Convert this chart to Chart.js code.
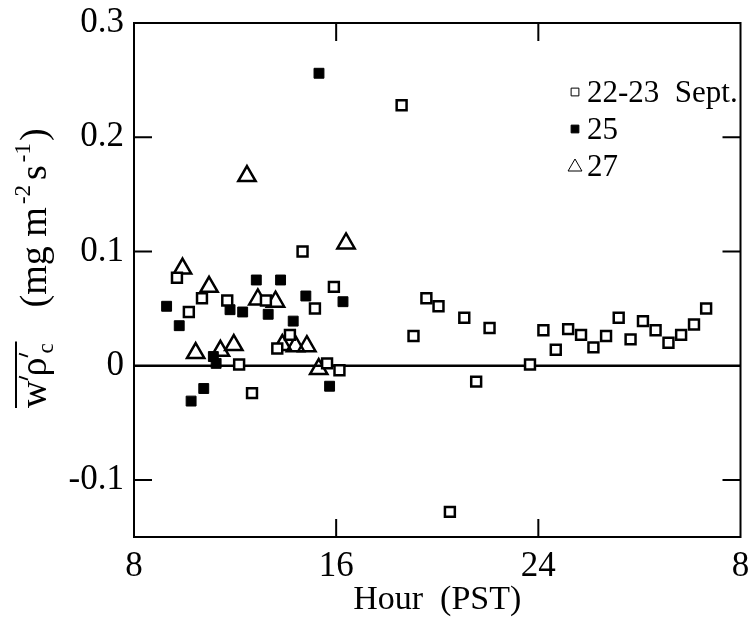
<!DOCTYPE html>
<html>
<head>
<meta charset="utf-8">
<script src="https://cdn.jsdelivr.net/npm/chart.js@4.4.1/dist/chart.umd.min.js"></script>
<style>
  html, body { margin: 0; padding: 0; background: #fff; }
  #wrap { width: 753px; height: 627px; }
</style>
</head>
<body>
<div id="wrap"><canvas id="fluxChart" width="753" height="627"></canvas></div>
<script>
// hours (PST, continuing past 24 for the next morning) and CO2 flux values
var sept2223Hours = [9.70, 10.17, 10.69, 11.69, 12.16, 12.67, 13.22, 13.67, 14.17, 14.67, 15.16, 15.64, 15.91, 16.13,
                     18.59, 19.06, 19.57, 20.05, 20.50, 21.07, 21.54, 22.07, 23.67, 24.20, 24.69, 25.18, 25.69,
                     26.18, 26.68, 27.18, 27.65, 28.14, 28.64, 29.15, 29.65, 30.16, 30.64];
var sept2223Flux  = [0.077, 0.047, 0.059, 0.057, 0.001, -0.024, 0.057, 0.015, 0.027, 0.100, 0.050, 0.002, 0.069, -0.004,
                     0.228, 0.026, 0.059, 0.052, -0.128, 0.042, -0.014, 0.033, 0.001, 0.031, 0.014, 0.032, 0.027,
                     0.016, 0.026, 0.042, 0.023, 0.039, 0.031, 0.020, 0.027, 0.036, 0.050];

var sept25Hours = [9.29, 9.79, 10.26, 10.76, 11.14, 11.25, 11.80, 12.30, 12.84, 13.31, 13.80, 14.30, 14.80, 15.32, 15.74, 16.27];
var sept25Flux  = [0.052, 0.035, -0.031, -0.020, 0.008, 0.002, 0.049, 0.047, 0.075, 0.045, 0.075, 0.039, 0.061, 0.256, -0.018, 0.056];

var sept27Hours = [9.92, 10.44, 10.97, 11.42, 11.95, 12.47, 12.90, 13.60, 13.87, 14.39, 14.84, 15.31, 16.39];
var sept27Flux  = [0.085, 0.011, 0.069, 0.013, 0.018, 0.166, 0.058, 0.056, 0.018, 0.017, 0.017, -0.003, 0.107];

var seriesNames = ['22-23  Sept.', '25', '27'];

var xTickValues = [8, 16, 24, 32];
var xTickLabels = ['8', '16', '24', '8'];
var yTickValues = [-0.1, 0, 0.1, 0.2, 0.3];
var yTickLabels = ['-0.1', '0', '0.1', '0.2', '0.3'];

function pts(xs, ys) {
  return xs.map(function(x, i) { return { x: x, y: ys[i] }; });
}

var serif = '"Liberation Serif", "DejaVu Serif", serif';

// frame, inward ticks and the zero line
var framePlugin = {
  id: 'frame',
  beforeDatasetsDraw: function(chart) {
    var ctx = chart.ctx, a = chart.chartArea;
    var y0 = chart.scales.y.getPixelForValue(0);
    ctx.save();
    ctx.strokeStyle = '#000';
    ctx.lineWidth = 2.5;
    ctx.beginPath();
    ctx.moveTo(a.left, y0); ctx.lineTo(a.right, y0);
    ctx.stroke();
    ctx.restore();
  },
  afterDatasetsDraw: function(chart) {
    var ctx = chart.ctx, a = chart.chartArea;
    var xs = chart.scales.x, ys = chart.scales.y;
    ctx.save();
    ctx.strokeStyle = '#000';
    ctx.lineWidth = 2;
    ctx.strokeRect(a.left, a.top, a.right - a.left, a.bottom - a.top);
    var len = 18;
    ctx.beginPath();
    [0.2, 0.1, -0.1].forEach(function(v) {
      var py = ys.getPixelForValue(v);
      ctx.moveTo(a.left, py); ctx.lineTo(a.left + len, py);
      ctx.moveTo(a.right, py); ctx.lineTo(a.right - len, py);
    });
    [16, 24].forEach(function(v) {
      var px = xs.getPixelForValue(v);
      ctx.moveTo(px, a.top); ctx.lineTo(px, a.top + len);
      ctx.moveTo(px, a.bottom); ctx.lineTo(px, a.bottom - len);
    });
    ctx.stroke();
    ctx.restore();
  }
};

// y title: overlined w'rho'_c then units, rotated
var yTitlePlugin = {
  id: 'yTitle',
  afterDraw: function(chart) {
    var ctx = chart.ctx;
    var fs = 38, small = 23;
    ctx.save();
    ctx.translate(46, 408);
    ctx.rotate(-Math.PI / 2);
    ctx.fillStyle = '#000';
    ctx.strokeStyle = '#000';
    ctx.textBaseline = 'alphabetic';
    var x = 0;
    function put(t, size, dy) {
      ctx.font = size + 'px ' + serif;
      ctx.fillText(t, x, dy);
      x += ctx.measureText(t).width;
    }
    function prime() {
      ctx.lineWidth = 1.8;
      ctx.beginPath();
      ctx.moveTo(x + 4, -27); ctx.lineTo(x + 1, -18);
      ctx.stroke();
      x += 4;
    }
    var x0 = x;
    put('w', fs, 0);
    prime();
    put('\u03c1', fs, 0);
    prime();
    put('c', small, 7);
    var x1 = x;
    ctx.lineWidth = 2;
    ctx.beginPath();
    ctx.moveTo(x0, -30); ctx.lineTo(x1 + 2, -30);
    ctx.stroke();
    x += 36;
    put('(mg m', fs, 0);
    x += 3;
    put('-2', small, -16);
    x += 5;
    put('s', fs, 0);
    x += 3;
    put('-1', small, -16);
    x += 2;
    put(')', fs, 0);
    ctx.restore();
  }
};

// legend inside the plot, drawn from the datasets
var legendPlugin = {
  id: 'innerLegend',
  afterDraw: function(chart) {
    var ctx = chart.ctx;
    chart.data.datasets.forEach(function(ds, i) {
      var cy = 92 + i * 37;
      var tri = ds.pointStyle === 'triangle';
      ctx.save();
      ctx.fillStyle = ds.pointBackgroundColor;
      ctx.strokeStyle = '#000';
      Chart.helpers.drawPoint(ctx, {
        pointStyle: ds.pointStyle,
        radius: tri ? 8 : 5.5,
        rotation: 0,
        borderWidth: 2
      }, 575, tri ? cy + 1 : cy);
      ctx.fillStyle = '#000';
      ctx.font = '31px ' + serif;
      ctx.textBaseline = 'middle';
      ctx.fillText(ds.label, 587, cy + 2);
      ctx.restore();
    });
  }
};

function noOverhang(s) {
  s.paddingLeft = 0; s.paddingRight = 0; s.paddingTop = 0; s.paddingBottom = 0;
}

var common = { showLine: false, pointBorderColor: '#000', pointHoverRadius: 7 };

new Chart(document.getElementById('fluxChart').getContext('2d'), {
  type: 'scatter',
  data: {
    datasets: [
      Object.assign({
        label: seriesNames[0], data: pts(sept2223Hours, sept2223Flux),
        pointStyle: 'rect', pointRadius: 7, pointBorderWidth: 2.5, pointBackgroundColor: '#fff'
      }, common),
      Object.assign({
        label: seriesNames[1], data: pts(sept25Hours, sept25Flux),
        pointStyle: 'rect', pointRadius: 7, pointBorderWidth: 1, pointBackgroundColor: '#000'
      }, common),
      Object.assign({
        label: seriesNames[2], data: pts(sept27Hours, sept27Flux),
        pointStyle: 'triangle', pointRadius: 10, pointBorderWidth: 2.5, pointBackgroundColor: 'rgba(255,255,255,0)'
      }, common)
    ]
  },
  options: {
    responsive: false,
    animation: false,
    layout: { padding: { top: 23, right: 8, left: 0, bottom: 0 } },
    plugins: { legend: { display: false }, tooltip: { enabled: false } },
    scales: {
      x: {
        type: 'linear', min: 8, max: 32,
        afterBuildTicks: function(s) { s.ticks = xTickValues.map(function(v) { return { value: v }; }); },
        afterFit: function(s) { s.height = 90; noOverhang(s); },
        ticks: {
          color: '#000', padding: 9, maxRotation: 0, autoSkip: false,
          font: { family: serif, size: 35 },
          callback: function(v) { return xTickLabels[xTickValues.indexOf(v)]; }
        },
        grid: { display: false, drawTicks: false },
        border: { display: false },
        title: {
          display: true, text: 'Hour  (PST)', color: '#000',
          font: { family: serif, size: 34 }, padding: { top: 0, bottom: 7 }
        }
      },
      y: {
        type: 'linear', min: -0.15, max: 0.3,
        afterBuildTicks: function(s) { s.ticks = yTickValues.map(function(v) { return { value: v }; }); },
        afterFit: function(s) { s.width = 134; noOverhang(s); },
        ticks: {
          color: '#000', padding: 10, autoSkip: false,
          font: { family: serif, size: 35 },
          callback: function(v) {
            for (var i = 0; i < yTickValues.length; i++) {
              if (Math.abs(yTickValues[i] - v) < 1e-9) return yTickLabels[i];
            }
            return '';
          }
        },
        grid: { display: false, drawTicks: false },
        border: { display: false }
      }
    }
  },
  plugins: [framePlugin, yTitlePlugin, legendPlugin]
});
</script>
</body>
</html>
